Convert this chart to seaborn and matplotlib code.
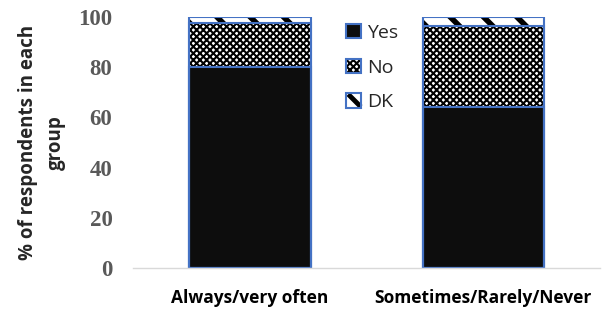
import matplotlib
matplotlib.use("Agg")
import matplotlib.pyplot as plt
import seaborn as sns
import pandas as pd
from matplotlib.patches import Patch
from matplotlib.lines import Line2D
from matplotlib.path import Path

categories = ["Always/very often", "Sometimes/Rarely/Never"]
yes_vals = [80.0, 64.0]
no_vals = [17.6, 32.4]
dk_vals = [2.4, 3.6]
series_names = ["Yes", "No", "DK"]
yticks = [0, 20, 40, 60, 80, 100]

sns.set_style("white")
plt.rcParams['hatch.color'] = 'black'

fig = plt.figure(figsize=(6.06, 3.11), dpi=100)
ax = fig.add_axes([0.22, 0.138, 0.77, 0.807])

df = pd.DataFrame({"cat": categories, "yes": yes_vals, "no": no_vals, "dk": dk_vals})
df["top_no"] = df["yes"] + df["no"]
df["top_dk"] = df["top_no"] + df["dk"]

edge = "#4472C4"
w = 0.52
DK_HATCH = "\\"
NO_HATCH = "xxxxx"

# DK layer (full height)
plt.rcParams['hatch.linewidth'] = 4.0
sns.barplot(data=df, x="cat", y="top_dk", color="white", width=w, ax=ax,
            edgecolor="black", linewidth=0, hatch=DK_HATCH, saturation=1)
# No layer
plt.rcParams['hatch.linewidth'] = 1.5
sns.barplot(data=df, x="cat", y="top_no", color="white", width=w, ax=ax,
            edgecolor="black", linewidth=0, hatch=NO_HATCH, saturation=1)
# Yes layer
sns.barplot(data=df, x="cat", y="yes", color="#0d0d0d", width=w, ax=ax,
            edgecolor=edge, linewidth=1.5, saturation=1)
# blue outlines for the hatched segments
for col in ["top_dk", "top_no"]:
    sns.barplot(data=df, x="cat", y=col, color=edge, fill=False, width=w, ax=ax,
                linewidth=1.5, saturation=1)

ax.set_ylim(0, 100)
ax.set_xlim(-0.5, 1.5)
ax.set_yticks(yticks)
ax.set_yticklabels([str(t) for t in yticks], fontfamily="Liberation Serif",
                   fontweight="bold", fontsize=16.5, color="#595959")
ax.set_xticks([0, 1])
ax.set_xticklabels(categories, fontfamily="Open Sans", fontweight="bold",
                   fontsize=12.5, color="black")
ax.tick_params(axis="y", length=0, pad=15)
ax.tick_params(axis="x", length=0, pad=15)
ax.set_xlabel("")
ax.set_ylabel("% of respondents in each\ngroup", fontfamily="Open Sans",
              fontweight="bold", fontsize=13.5, linespacing=1.55, labelpad=9)
for s in ["top", "right", "left"]:
    ax.spines[s].set_visible(False)
ax.spines["bottom"].set_color("#d9d9d9")
ax.spines["bottom"].set_linewidth(1)

plt.rcParams['hatch.linewidth'] = 1.5
h_no = Patch(facecolor="white", edgecolor="black", hatch=NO_HATCH, linewidth=0)
h_yes = Patch(facecolor="#0d0d0d", edgecolor=edge, linewidth=1.5)
h_dk_bg = Patch(facecolor="white", edgecolor="none", linewidth=0)
stripe = Line2D([], [], linestyle="none", color="black",
                marker=Path([(-1, 1), (1, -1)]), markersize=9, markeredgewidth=3.5)
o1 = Patch(facecolor="none", edgecolor=edge, linewidth=1.5)
o2 = Patch(facecolor="none", edgecolor=edge, linewidth=1.5)
leg = ax.legend(handles=[h_yes, (h_no, o1), (h_dk_bg, stripe, o2)], labels=series_names,
                loc="upper left", bbox_to_anchor=(0.44, 1.003),
                frameon=False, prop={"family": "Open Sans", "size": 14},
                handlelength=0.75, handleheight=0.75, handletextpad=0.3,
                labelspacing=0.85, borderaxespad=0)

fig.savefig("out.png", dpi=100)
